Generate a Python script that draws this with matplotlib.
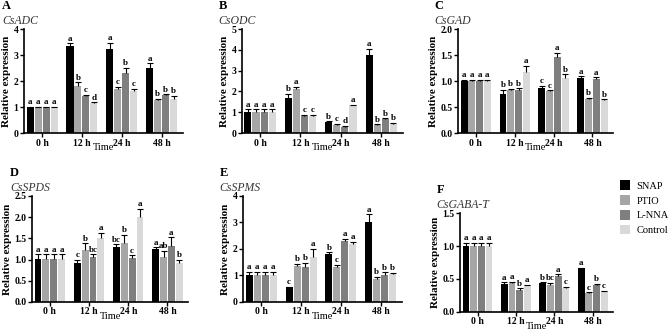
import numpy as np
import matplotlib
matplotlib.use('Agg')
import matplotlib.pyplot as plt
from matplotlib.patches import Patch

plt.rcParams['font.family'] = ['Liberation Serif', 'DejaVu Serif']

times = ['0 h', '12 h', '24 h', '48 h']
treatments = ['SNAP', 'PTIO', 'L-NNA', 'Control']
colors = ['#000000', '#a6a6a6', '#7f7f7f', '#d9d9d9']

# per gene: values [time][treatment], errors, letters
adc_vals = [[1.0, 1.0, 1.0, 1.0], [3.35, 1.83, 1.42, 1.15], [3.25, 1.68, 2.32, 1.62], [2.5, 1.27, 1.46, 1.33]]
adc_err = [[0.02, 0.02, 0.02, 0.02], [0.1, 0.12, 0.05, 0.04], [0.22, 0.1, 0.2, 0.08], [0.18, 0.05, 0.04, 0.1]]
adc_let = [['a', 'a', 'a', 'a'], ['a', 'b', 'c', 'd'], ['a', 'c', 'b', 'c'], ['a', 'b', 'b', 'b']]

odc_vals = [[1.02, 1.02, 1.02, 1.02], [1.68, 2.12, 0.8, 0.8], [0.52, 0.4, 0.3, 1.33], [3.75, 0.38, 0.66, 0.45]]
odc_err = [[0.12, 0.12, 0.12, 0.12], [0.2, 0.1, 0.07, 0.08], [0.05, 0.04, 0.04, 0.04], [0.3, 0.05, 0.05, 0.04]]
odc_let = [['a', 'a', 'a', 'a'], ['b', 'a', 'c', 'c'], ['b', 'c', 'd', 'a'], ['a', 'b', 'b', 'b']]

gad_vals = [[1.0, 1.0, 1.0, 1.0], [0.76, 0.82, 0.83, 1.17], [0.87, 0.8, 1.47, 1.05], [1.05, 0.65, 1.04, 0.63]]
gad_err = [[0.03, 0.03, 0.03, 0.03], [0.07, 0.03, 0.03, 0.13], [0.04, 0.02, 0.08, 0.08], [0.04, 0.03, 0.03, 0.02]]
gad_let = [['a', 'a', 'a', 'a'], ['b', 'b', 'b', 'a'], ['c', 'c', 'a', 'b'], ['a', 'b', 'a', 'b']]

spds_vals = [[1.02, 1.02, 1.02, 1.02], [0.92, 1.23, 1.05, 1.5], [1.3, 1.4, 1.03, 2.0], [1.24, 1.07, 1.32, 0.92]]
spds_err = [[0.1, 0.1, 0.1, 0.1], [0.08, 0.15, 0.07, 0.13], [0.06, 0.18, 0.07, 0.2], [0.05, 0.14, 0.2, 0.07]]
spds_let = [['a', 'a', 'a', 'a'], ['c', 'b', 'bc', 'a'], ['bc', 'b', 'c', 'a'], ['a', 'ab', 'a', 'b']]

spms_vals = [[1.02, 1.02, 1.02, 1.02], [0.55, 1.35, 1.33, 1.7], [1.82, 1.3, 2.28, 2.18], [3.0, 0.88, 1.0, 1.05]]
spms_err = [[0.12, 0.12, 0.12, 0.12], [0.02, 0.08, 0.15, 0.3], [0.05, 0.1, 0.1, 0.08], [0.3, 0.06, 0.12, 0.04]]
spms_let = [['a', 'a', 'a', 'a'], ['c', 'b', 'b', 'a'], ['b', 'c', 'a', 'a'], ['a', 'b', 'b', 'b']]

gabat_vals = [[1.0, 1.0, 1.0, 1.0], [0.42, 0.44, 0.33, 0.4], [0.44, 0.41, 0.54, 0.36], [0.66, 0.29, 0.4, 0.31]]
gabat_err = [[0.05, 0.05, 0.05, 0.05], [0.03, 0.02, 0.03, 0.01], [0.01, 0.03, 0.03, 0.02], [0.01, 0.01, 0.03, 0.01]]
gabat_let = [['a', 'a', 'a', 'a'], ['a', 'a', 'b', 'a'], ['b', 'bc', 'a', 'c'], ['a', 'c', 'b', 'c']]

panels = [
    # letter, gene, vals, err, letters, ymax, ystep, axes rect, fmt
    ('A', 'CsADC', adc_vals, adc_err, adc_let, 4, 1, [0.036, 0.598, 0.237, 0.314], '%d'),
    ('B', 'CsODC', odc_vals, odc_err, odc_let, 5, 1, [0.361, 0.598, 0.240, 0.314], '%d'),
    ('C', 'CsGAD', gad_vals, gad_err, gad_let, 2.0, 0.5, [0.684, 0.598, 0.231, 0.314], '%.1f'),
    ('D', 'CsSPDS', spds_vals, spds_err, spds_let, 2.5, 0.5, [0.048, 0.088, 0.233, 0.320], '%.1f'),
    ('E', 'CsSPMS', spms_vals, spms_err, spms_let, 4, 1, [0.363, 0.088, 0.237, 0.320], '%d'),
    ('F', 'CsGABA-T', gabat_vals, gabat_err, gabat_let, 1.5, 0.5, [0.687, 0.058, 0.228, 0.298], '%.1f'),
]

fig = plt.figure(figsize=(6.7, 3.31), dpi=100)

x = np.arange(len(times))
width = 0.2
for letter, gene, vals, err, lets, ymax, ystep, rect, fmt in panels:
    ax = fig.add_axes(rect)
    vals = np.array(vals)
    err = np.array(err)
    for j in range(len(treatments)):
        xs = x + (j - 1.5) * width
        ax.bar(xs, vals[:, j], width * 0.88, color=colors[j], zorder=2)
        res = ax.errorbar(xs, vals[:, j], yerr=[np.zeros(len(x)), err[:, j]], fmt='none',
                          ecolor='black', elinewidth=0.8, capsize=2, capthick=0.8, zorder=3)
        res[1][0].set_visible(False)
        for i in range(len(x)):
            ax.text(xs[i], vals[i, j] + err[i, j] + ymax * 0.005, lets[i][j], ha='center', va='bottom',
                    fontsize=6.5, fontweight='bold')
    ax.set_xlim(-0.45, 3.53)
    ax.set_ylim(0, ymax)
    ticks = np.arange(0, ymax + ystep / 2, ystep)
    ax.set_yticks(ticks)
    ax.set_yticklabels([fmt % t for t in ticks], fontsize=7, fontweight='bold')
    ax.set_xticks(x)
    ax.set_xticklabels(times, fontsize=7, fontweight='bold')
    ax.tick_params(axis='both', length=3, width=1, pad=1)
    for s in ['top', 'right']:
        ax.spines[s].set_visible(False)
    for s in ['left', 'bottom']:
        ax.spines[s].set_linewidth(1.2)
    ax.set_xlabel('Time', fontsize=7.5, labelpad=-3)
    ax.set_ylabel('Relative expression', fontsize=8, fontweight='bold', labelpad=2)
    # panel letter and gene name
    lx = rect[0] - 0.033 if letter in 'AD' else rect[0] - 0.035
    fig.text(lx, rect[1] + rect[3] + 0.07, letter, fontsize=9, fontweight='bold', va='center', ha='left')
    fig.text(lx, rect[1] + rect[3] + 0.025, gene, fontsize=8.5, fontstyle='italic', color='#333333',
             va='center', ha='left')

handles = [Patch(facecolor=c, edgecolor='none') for c in colors]
fig.legend(handles, treatments, loc='upper left', bbox_to_anchor=(0.925, 0.455), frameon=False,
           borderpad=0, borderaxespad=0, fontsize=7.5, handlelength=1.0, handleheight=1.0,
           handletextpad=0.6, labelspacing=0.45)

plt.savefig('out.png', dpi=100)
